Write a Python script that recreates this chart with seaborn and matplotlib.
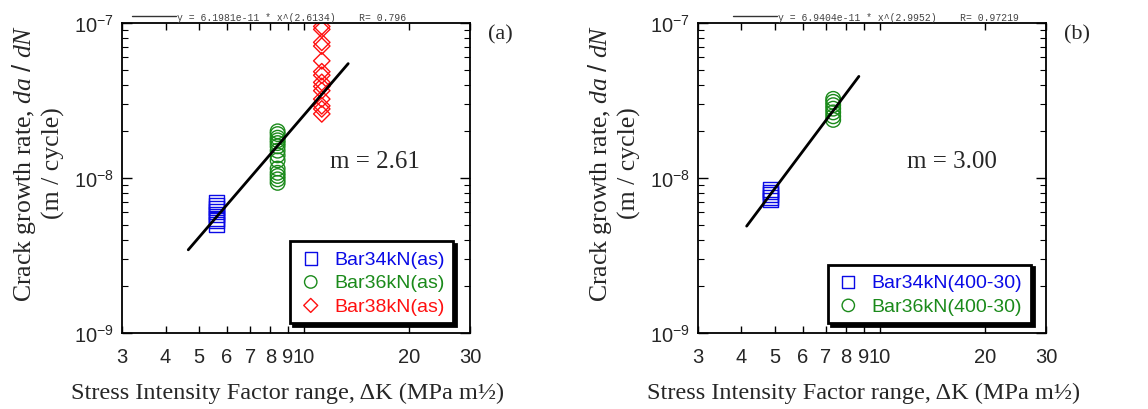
import numpy as np
import pandas as pd
import matplotlib
matplotlib.use("Agg")
import matplotlib.pyplot as plt
import matplotlib.ticker as mticker
import seaborn as sns

# ---- data ----
# panel (a): as-received bars
a34_dk = [5.6] * 8
a34_rate = [5.0e-9, 5.3e-9, 5.5e-9, 5.8e-9, 6.1e-9, 6.4e-9, 6.7e-9, 7.0e-9]
a36_dk = [8.4] * 14
a36_rate = [9.3e-9, 9.8e-9, 1.03e-8, 1.08e-8, 1.15e-8, 1.3e-8, 1.4e-8,
            1.5e-8, 1.6e-8, 1.68e-8, 1.75e-8, 1.82e-8, 1.92e-8, 2.0e-8]
a38_dk = [11.25] * 14
a38_rate = [9.5e-8, 9.1e-8, 7.5e-8, 7.1e-8, 5.7e-8, 4.85e-8, 4.6e-8,
            4.14e-8, 3.9e-8, 3.66e-8, 3.23e-8, 2.92e-8, 2.79e-8, 2.59e-8]

# panel (b): 400-30 treated bars
b34_dk = [4.85] * 5
b34_rate = [7.2e-9, 7.5e-9, 7.8e-9, 8.1e-9, 8.4e-9]
b36_dk = [7.34] * 7
b36_rate = [2.37e-8, 2.5e-8, 2.65e-8, 2.8e-8, 2.95e-8, 3.1e-8, 3.24e-8]

# power-law fits shown on the chart
fit_a = dict(C=6.1981e-11, m=2.6134, R=0.796, x0=4.65, x1=13.4)
fit_b = dict(C=6.9404e-11, m=2.9952, R=0.97219, x0=4.14, x1=8.7)

xtick_vals = [3, 4, 5, 6, 7, 8, 9, 10, 20, 30]

BLUE = "#0a0ae6"
GREEN = "#1a8a1a"
RED = "#ff1010"

sns.set_style("ticks")
plt.rcParams["font.family"] = ["Liberation Sans", "DejaVu Sans"]
plt.rcParams["mathtext.fontset"] = "custom"
plt.rcParams["mathtext.default"] = "regular"
plt.rcParams["mathtext.it"] = "Liberation Serif:italic"
plt.rcParams["mathtext.rm"] = "Liberation Sans"

SERIF = ["Liberation Serif", "DejaVu Serif"]


def style_axes(ax):
    ax.set_xscale("log")
    ax.set_yscale("log")
    ax.set_xlim(3, 30)
    ax.set_ylim(1e-9, 1e-7)
    ax.xaxis.set_major_locator(mticker.FixedLocator(xtick_vals))
    ax.xaxis.set_major_formatter(mticker.FixedFormatter([str(v) for v in xtick_vals]))
    ax.xaxis.set_minor_locator(mticker.NullLocator())
    ax.yaxis.set_major_locator(mticker.LogLocator(base=10, numticks=5))
    ax.yaxis.set_minor_locator(mticker.LogLocator(base=10, subs=np.arange(2, 10), numticks=10))
    ax.yaxis.set_minor_formatter(mticker.NullFormatter())
    ax.tick_params(which="both", direction="in", top=True, right=True, color="black")
    ax.tick_params(axis="x", which="major", length=5, width=1, labelsize=14.5, pad=10)
    ax.tick_params(axis="y", which="major", length=7, width=1, labelsize=14.5, pad=6)
    ax.tick_params(axis="y", which="minor", length=4, width=0.8)
    for s in ax.spines.values():
        s.set_visible(True)
        s.set_color("black")
        s.set_linewidth(1.3)
    ax.set_xlabel("Stress Intensity Factor range, \u0394K (MPa m\u00bd)",
                  fontfamily=SERIF, fontsize=17.5)
    ax.xaxis.set_label_coords(0.476, -0.158)
    ax.set_ylabel("Crack growth rate, $\\mathit{da\\ /\\ dN}$\n(m / cycle)",
                  fontfamily=SERIF, fontsize=18.5, linespacing=1.2)
    ax.yaxis.set_label_coords(-0.165, 0.55)


def draw_fit(ax, fit, anchor_x):
    xs = np.array([fit["x0"], fit["x1"]])
    line = pd.DataFrame({"dk": xs, "rate": fit["C"] * xs ** fit["m"]})
    sns.lineplot(data=line, x="dk", y="rate", ax=ax, color="black", lw=2, legend=False)
    label = "y = {:.4e} * x^({:.4f})    R= {}".format(fit["C"], fit["m"], fit["R"])
    handle = plt.Line2D([], [], color="#333333", lw=1)
    leg = ax.legend([handle], [label], loc="lower left", bbox_to_anchor=(anchor_x, 1.004),
                    frameon=False, prop={"family": "Liberation Mono", "size": 7},
                    handlelength=4.5, handletextpad=0.1, borderpad=0, borderaxespad=0)
    for t in leg.get_texts():
        t.set_color("#444444")
    ax.add_artist(leg)


def draw_series(ax, series):
    for dk, rate, marker, size, color, name in series:
        sns.scatterplot(x=dk, y=rate, ax=ax, marker=marker, s=size, facecolors="none",
                        edgecolor=color, linewidth=1, label=name, legend=False)


def data_legend(ax, colors, anchor):
    leg = ax.legend(loc="lower right", bbox_to_anchor=anchor, fontsize=14,
                    frameon=True, fancybox=False, edgecolor="black",
                    shadow={"color": "black", "alpha": 1, "ox": 2, "oy": -2},
                    handletextpad=0.6, borderpad=0.45, labelspacing=0.3,
                    handlelength=1.2, markerscale=0.85)
    leg.get_frame().set_linewidth(2)
    for txt, c in zip(leg.get_texts(), colors):
        txt.set_color(c)
    return leg


fig = plt.figure(figsize=(11.48, 4.10), dpi=100)
ax_a = fig.add_axes([0.1063, 0.1854, 0.3031, 0.7561])
ax_b = fig.add_axes([0.6080, 0.1854, 0.3031, 0.7561])

# panel (a)
draw_fit(ax_a, fit_a, 0.03)
draw_series(ax_a, [
    (a34_dk, a34_rate, "s", 110, BLUE, "Bar34kN(as)"),
    (a36_dk, a36_rate, "o", 110, GREEN, "Bar36kN(as)"),
    (a38_dk, a38_rate, "D", 70, RED, "Bar38kN(as)"),
])
style_axes(ax_a)
data_legend(ax_a, [BLUE, GREEN, RED], (0.98, 0.0))
ax_a.text(0.728, 0.555, "m = 2.61", transform=ax_a.transAxes, ha="center", va="center",
          fontfamily=SERIF, fontsize=18)
ax_a.text(1.086, 0.965, "(a)", transform=ax_a.transAxes, ha="center", va="center",
          fontfamily=SERIF, fontsize=16)

# panel (b)
draw_fit(ax_b, fit_b, 0.10)
draw_series(ax_b, [
    (b34_dk, b34_rate, "s", 110, BLUE, "Bar34kN(400-30)"),
    (b36_dk, b36_rate, "o", 110, GREEN, "Bar36kN(400-30)"),
])
style_axes(ax_b)
data_legend(ax_b, [BLUE, GREEN], (0.985, 0.0))
ax_b.text(0.730, 0.555, "m = 3.00", transform=ax_b.transAxes, ha="center", va="center",
          fontfamily=SERIF, fontsize=18)
ax_b.text(1.089, 0.965, "(b)", transform=ax_b.transAxes, ha="center", va="center",
          fontfamily=SERIF, fontsize=16)

fig.savefig("out.png", dpi=100, facecolor="white")
